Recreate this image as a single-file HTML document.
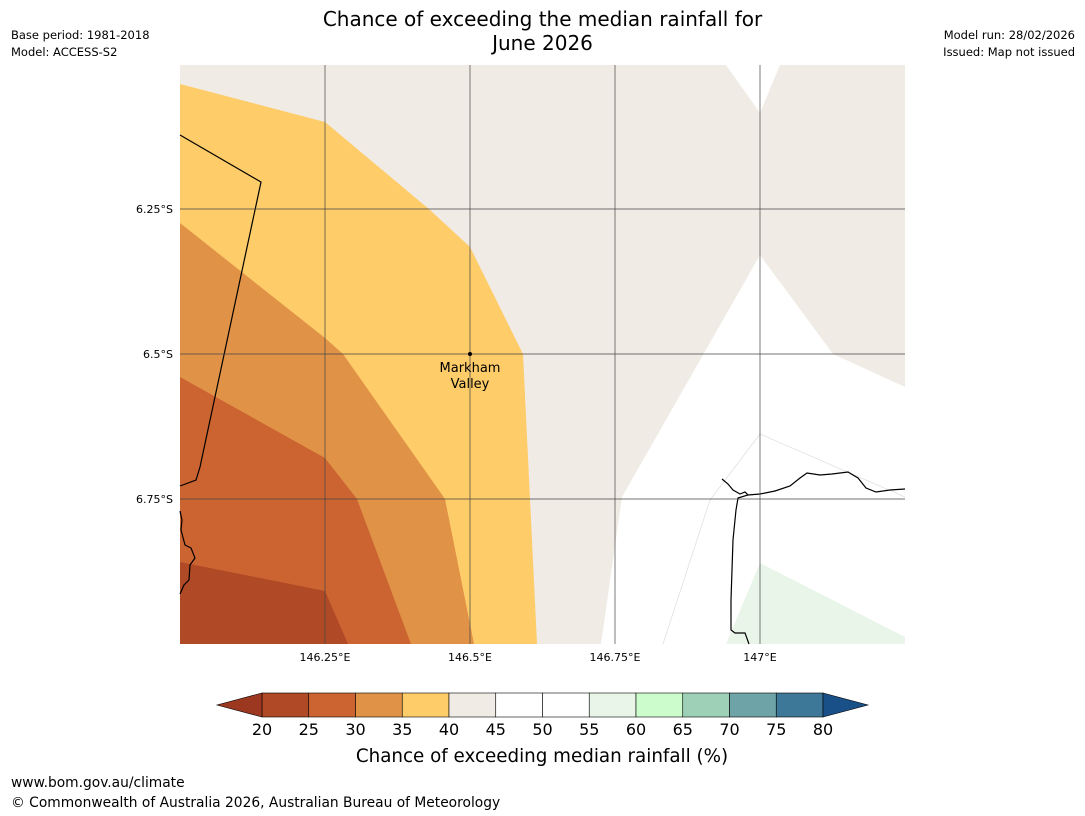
<!DOCTYPE html>
<html><head><meta charset="utf-8"><style>
body{margin:0;background:#fff;width:1085px;height:816px;overflow:hidden;font-family:"DejaVu Sans","Liberation Sans",sans-serif;}
.t{position:absolute;color:#000;}
</style></head><body>
<div class="t" style="left:0;width:1085px;top:7px;text-align:center;font-size:20px;line-height:24px;">Chance of exceeding the median rainfall for<br>June 2026</div>
<div class="t" style="left:11px;top:27px;font-size:11.5px;line-height:17px;">Base period: 1981-2018<br>Model: ACCESS-S2</div>
<div class="t" style="right:10px;top:27px;font-size:11.5px;line-height:17px;text-align:right;">Model run: 28/02/2026<br>Issued: Map not issued</div>
<div class="t" style="left:11px;top:775px;font-size:13.8px;">www.bom.gov.au/climate</div>
<div class="t" style="left:11px;top:795px;font-size:13.8px;">© Commonwealth of Australia 2026, Australian Bureau of Meteorology</div>
<svg width="1085" height="816" style="position:absolute;left:0;top:0">
<g>
<rect x="180" y="65" width="725" height="579" fill="#f0ebe5"/>
<polygon points="760,255 833,354 905,387 905,644 601,644 622,497" fill="#fff"/>
<polygon points="726,65 760,113 780,65" fill="#fff"/>
<polyline points="760,434 710,500 663,644" fill="none" stroke="#ddd" stroke-width="0.7"/>
<polyline points="760,434 905,497" fill="none" stroke="#ddd" stroke-width="0.7"/>
<polygon points="760,563 905,637 905,644 726,644" fill="#e8f5e8"/>
<polygon points="180,84 325,122 430,210 470,247 523,354 537,644 180,644" fill="#fecc68"/>
<polygon points="180,223 325,338 343,354 445,499 474,644 180,644" fill="#e09347"/>
<polygon points="180,377 325,458 357,499 411,644 180,644" fill="#cc6431"/>
<polygon points="180,562 325,591 348,644 180,644" fill="#b04a26"/>
<polyline points="180,135 261,182 200,467 196,480 180,486" fill="none" stroke="#000" stroke-width="1.2"/>
<polyline points="180,511 182,520 181,530 185,545 191,548 195,558 190,565 189,580 184,585 180,594" fill="none" stroke="#000" stroke-width="1.2"/>
<polyline points="722,479 728,484 733,490 740,494 745,492 748,495 738,498 736,510 733,540 732,570 731,600 731,630 735,633 745,633 749,644" fill="none" stroke="#000" stroke-width="1.2"/>
<polyline points="748,495 760,494 775,491 790,486 800,478 807,473 820,475 832,474 848,472 858,478 866,488 876,492 890,490 905,489" fill="none" stroke="#000" stroke-width="1.2"/>
<g stroke="#444" stroke-width="0.7">
<line x1="325" y1="65" x2="325" y2="644"/><line x1="470" y1="65" x2="470" y2="644"/><line x1="615" y1="65" x2="615" y2="644"/><line x1="760" y1="65" x2="760" y2="644"/>
<line x1="180" y1="209" x2="905" y2="209"/><line x1="180" y1="354" x2="905" y2="354"/><line x1="180" y1="499" x2="905" y2="499"/>
</g>
<circle cx="470" cy="354" r="2" fill="#000"/>
<text x="470" y="372" font-size="13" text-anchor="middle">Markham</text>
<text x="470" y="388" font-size="13" text-anchor="middle">Valley</text>
</g>
<g font-size="11">
<text x="325" y="661" text-anchor="middle">146.25°E</text><text x="470" y="661" text-anchor="middle">146.5°E</text>
<text x="615" y="661" text-anchor="middle">146.75°E</text><text x="760" y="661" text-anchor="middle">147°E</text>
<text x="173" y="213" text-anchor="end">6.25°S</text><text x="173" y="358" text-anchor="end">6.5°S</text><text x="173" y="503" text-anchor="end">6.75°S</text>
</g>
<g id="cbar"></g>
<text x="542" y="762" font-size="18.3" text-anchor="middle">Chance of exceeding median rainfall (%)</text>
</svg>
<script>
const levels=[20,25,30,35,40,45,50,55,60,65,70,75,80];
const colors=["#b04a26","#cc6431","#e09347","#fecc68","#f0ebe5","#ffffff","#ffffff","#e8f5e8","#ccfccc","#9ed0b8","#6ea4a8","#3e7898"];
const extColors=["#9c3820","#1a5088"];
const ns="http://www.w3.org/2000/svg",g=document.getElementById('cbar');
const x0=262,x1=823,y0=693,y1=717;
const sx=v=>x0+(v-levels[0])/(levels[levels.length-1]-levels[0])*(x1-x0);
function mk(t,a){const e=document.createElementNS(ns,t);for(const k in a)e.setAttribute(k,a[k]);g.appendChild(e);return e;}
colors.forEach((c,i)=>{const r=mk('rect',{x:sx(levels[i]),y:y0,width:sx(levels[i+1])-sx(levels[i]),height:y1-y0,fill:c,stroke:'#000','stroke-width':0.6});

});
const l=mk('polygon',{points:`${x0},${y0} ${x0},${y1} 217,705`,fill:extColors[0],stroke:'#000','stroke-width':0.6});


const h=mk('polygon',{points:`${x1},${y0} ${x1},${y1} 868,705`,fill:extColors[1],stroke:'#000','stroke-width':0.6});


levels.forEach(v=>{const t=mk('text',{x:sx(v),y:735,'font-size':16,'text-anchor':'middle'});t.textContent=v;

});
</script>
</body></html>
